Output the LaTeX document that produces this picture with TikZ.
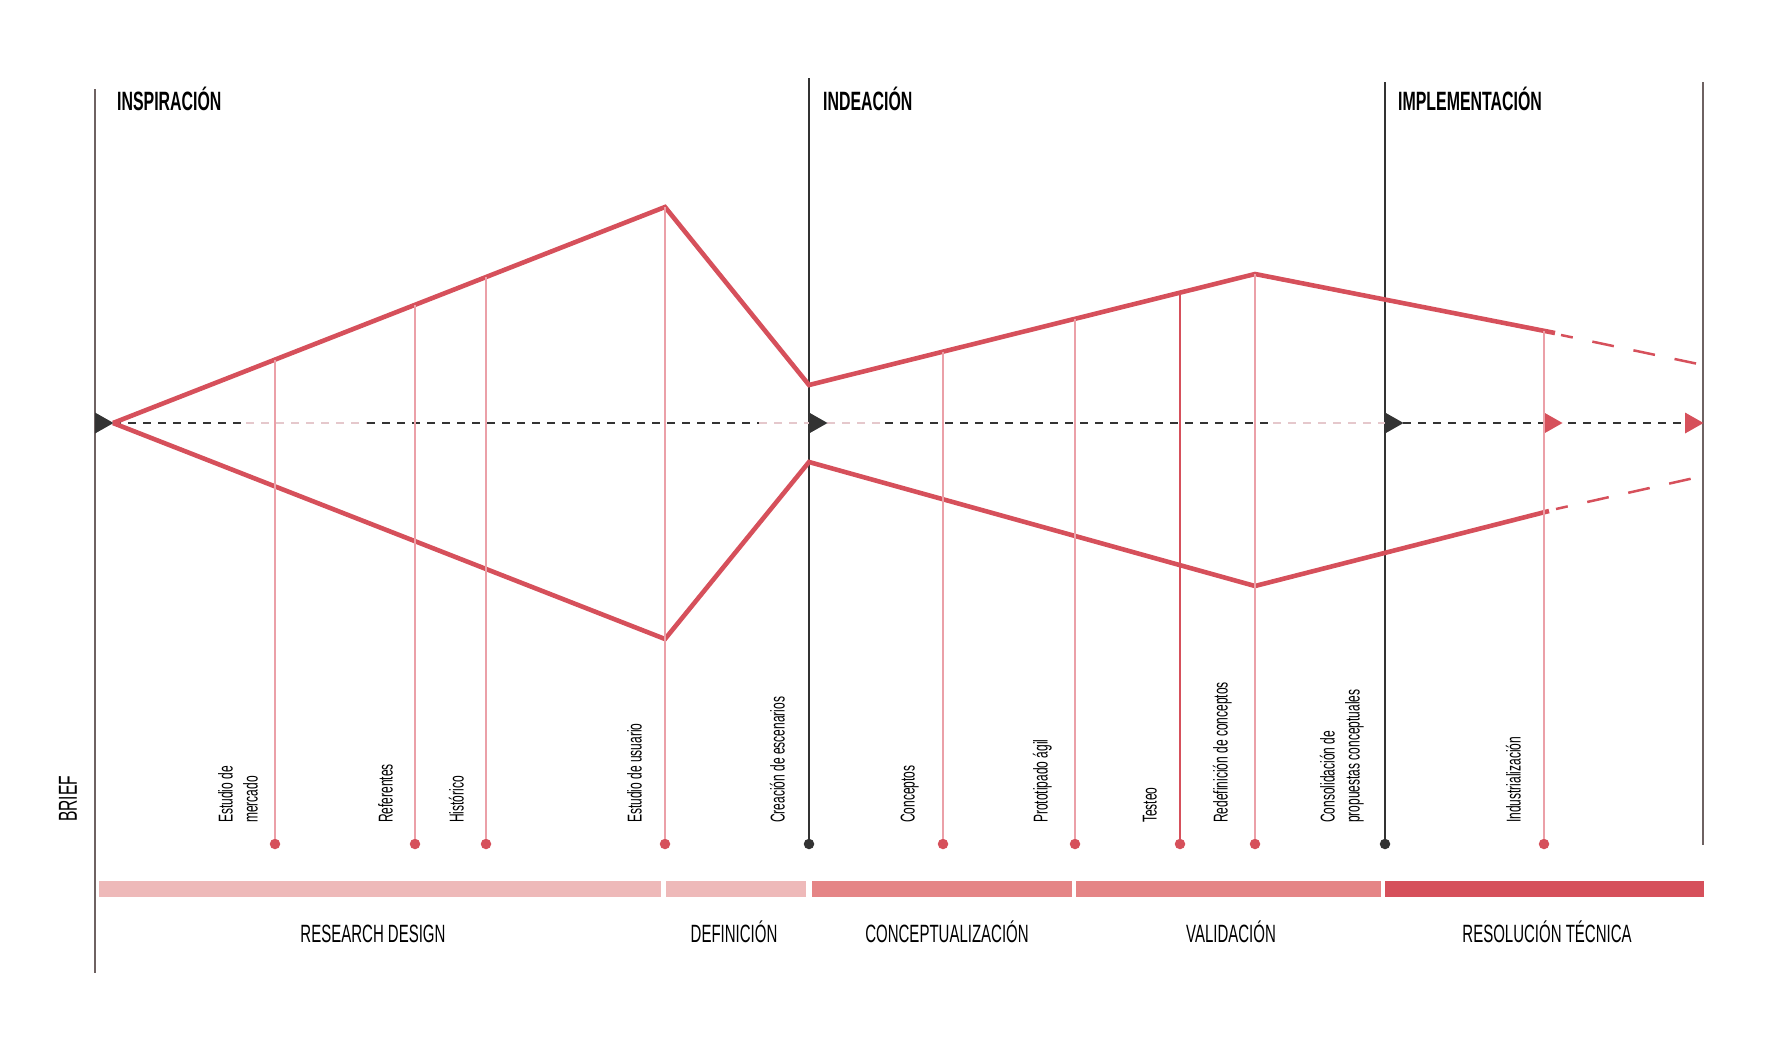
\documentclass[tikz,border=0pt]{standalone}
\usepackage{fontspec}
\setmainfont[FakeStretch=0.6]{Liberation Sans}
\usetikzlibrary{calc,arrows.meta,positioning}
\definecolor{rojo}{HTML}{D6505B}
\definecolor{rosa}{HTML}{EBA0A8}
\definecolor{rosaclaro}{HTML}{EEB9B9}
\definecolor{rosamedio}{HTML}{E58586}
\definecolor{gris}{HTML}{333333}
\definecolor{grisclaro}{HTML}{E5C8CC}
\definecolor{marron}{HTML}{6E6262}

\begin{document}
\begin{tikzpicture}[x=1pt, y=-1pt,
    guia/.style={line width=1.4pt, gris},
    hilo/.style={line width=1.3pt, rosa},
    punto/.style={circle, fill=rojo, inner sep=0pt, minimum size=10.5pt},
    etiq/.style={rotate=90, anchor=south west, inner sep=0pt, align=left,
      font=\fontsize{20}{25}\selectfont},
    titulo/.style={anchor=base west, inner sep=0pt, font=\fontsize{26.5}{26.5}\selectfont\bfseries},
    fase/.style={anchor=base, inner sep=0pt, font=\fontsize{25}{25}\selectfont}]
  \useasboundingbox (0,0) rectangle (1771,1042);

  % Phase dividers
  \draw[line width=1.4pt, marron] (95,89) -- (95,973);
  \draw[line width=1.4pt, marron] (1703,82) -- (1703,845);
  \node[punto, fill=gris] (escenarios) at (809,844) {};
  \node[punto, fill=gris] (consolidacion) at (1385,844) {};
  \draw[guia] (809,78) -- (escenarios);
  \draw[guia] (1385,82) -- (consolidacion);

  % Phase titles
  \node[titulo] (inspiracion) at (117,110) {INSPIRACIÓN};
  \node[titulo] (ideacion) at (823,110) {INDEACIÓN};
  \node[titulo] (implementacion) at (1398,110) {IMPLEMENTACIÓN};

  % Central axis
  \foreach \xa/\xb/\col in {113/246/gris, 246/367/grisclaro, 367/759/gris, 759/809/grisclaro,
      827/885/grisclaro, 885/1273/gris, 1273/1385/grisclaro, 1403/1685/gris} {
    \draw[\col, line width=1.2pt, dash pattern=on 8pt off 7pt] (\xa,423) -- (\xb,423);
  }
  \foreach \x/\col in {95/gris, 809/gris, 1385/gris, 1544/rojo, 1685/rojo} {
    \fill[\col] (\x,412.5) -- ++(18.5,10.5) -- ++(-18.5,10.5) -- cycle;
  }

  % Diverge / converge
  \coordinate (brief) at (113,423);
  \coordinate (pico1) at (665,207);
  \coordinate (valle1) at (665,639);
  \coordinate (idA) at (809,385);
  \coordinate (idB) at (809,462);
  \coordinate (pico2) at (1255,274);
  \coordinate (valle2) at (1255,586);
  \coordinate (finA) at (1555,333);
  \coordinate (finB) at (1549,511);
  \draw[rojo, line width=4.6pt] (brief) -- (pico1) -- (idA) -- (pico2) -- (finA);
  \draw[rojo, line width=4.6pt] (brief) -- (valle1) -- (idB) -- (valle2) -- (finB);
  \draw[rojo, line width=2.5pt, dash pattern=on 22pt off 20pt, dash phase=10pt]
    (1561,335) -- (1703,365);
  \draw[rojo, line width=2.5pt, dash pattern=on 22pt off 20pt, dash phase=10pt]
    (1556,509) -- (1703,476);

  % Milestones
  \foreach \x/\ytop/\nombre/\col in {275/359.6/mercado/rosa, 415/304.8/referentes/rosa,
      486/277/historico/rosa, 665/207/usuario/rosa, 943/351.6/conceptos/rosa,
      1075/318.8/prototipado/rosa, 1180/292.7/testeo/rojo, 1255/274/redefinicion/rosa,
      1544/330.8/industrializacion/rosa} {
    \coordinate (t\nombre) at (\x,\ytop);
    \node[punto] (\nombre) at (\x,844) {};
    \draw[hilo, \col] (t\nombre) -- (\nombre);
  }

  \node[etiq] (lmercado) at (258,823) {Estudio de\\mercado};
  \node[etiq] (lreferentes) at (393,823) {Referentes};
  \node[etiq] (lhistorico) at (464,823) {Histórico};
  \node[etiq] (lusuario) at (642,823) {Estudio de usuario};
  \node[etiq] (lescenarios) at (785,823) {Creación de escenarios};
  \node[etiq] (lconceptos) at (919,823) {Conceptos};
  \node[etiq] (lprototipado) at (1052,823) {Prototipado ágil};
  \node[etiq] (ltesteo) at (1157,823) {Testeo};
  \node[etiq] (lredefinicion) at (1232,823) {Redefinición de conceptos};
  \node[etiq] (lconsolidacion) at (1364,823) {Consolidación de\\propuestas conceptuales};
  \node[etiq] (lindustrializacion) at (1521,823) {Industrialización};
  \node[etiq, font=\fontsize{26}{26}\selectfont] (lbrief) at (77,822) {BRIEF};

  % Stage bars
  \fill[rosaclaro] (99,881) rectangle (661,897);
  \fill[rosaclaro] (666,881) rectangle (806,897);
  \fill[rosamedio] (812,881) rectangle (1072,897);
  \fill[rosamedio] (1076,881) rectangle (1381,897);
  \fill[rojo] (1385,881) rectangle (1704,897);

  \node[fase] (research) at (373,942) {RESEARCH DESIGN};
  \node[fase] (definicion) at (734,942) {DEFINICIÓN};
  \node[fase] (conceptualizacion) at (947,942) {CONCEPTUALIZACIÓN};
  \node[fase] (validacion) at (1231,942) {VALIDACIÓN};
  \node[fase] (resolucion) at (1547,942) {RESOLUCIÓN TÉCNICA};
\end{tikzpicture}
\end{document}
